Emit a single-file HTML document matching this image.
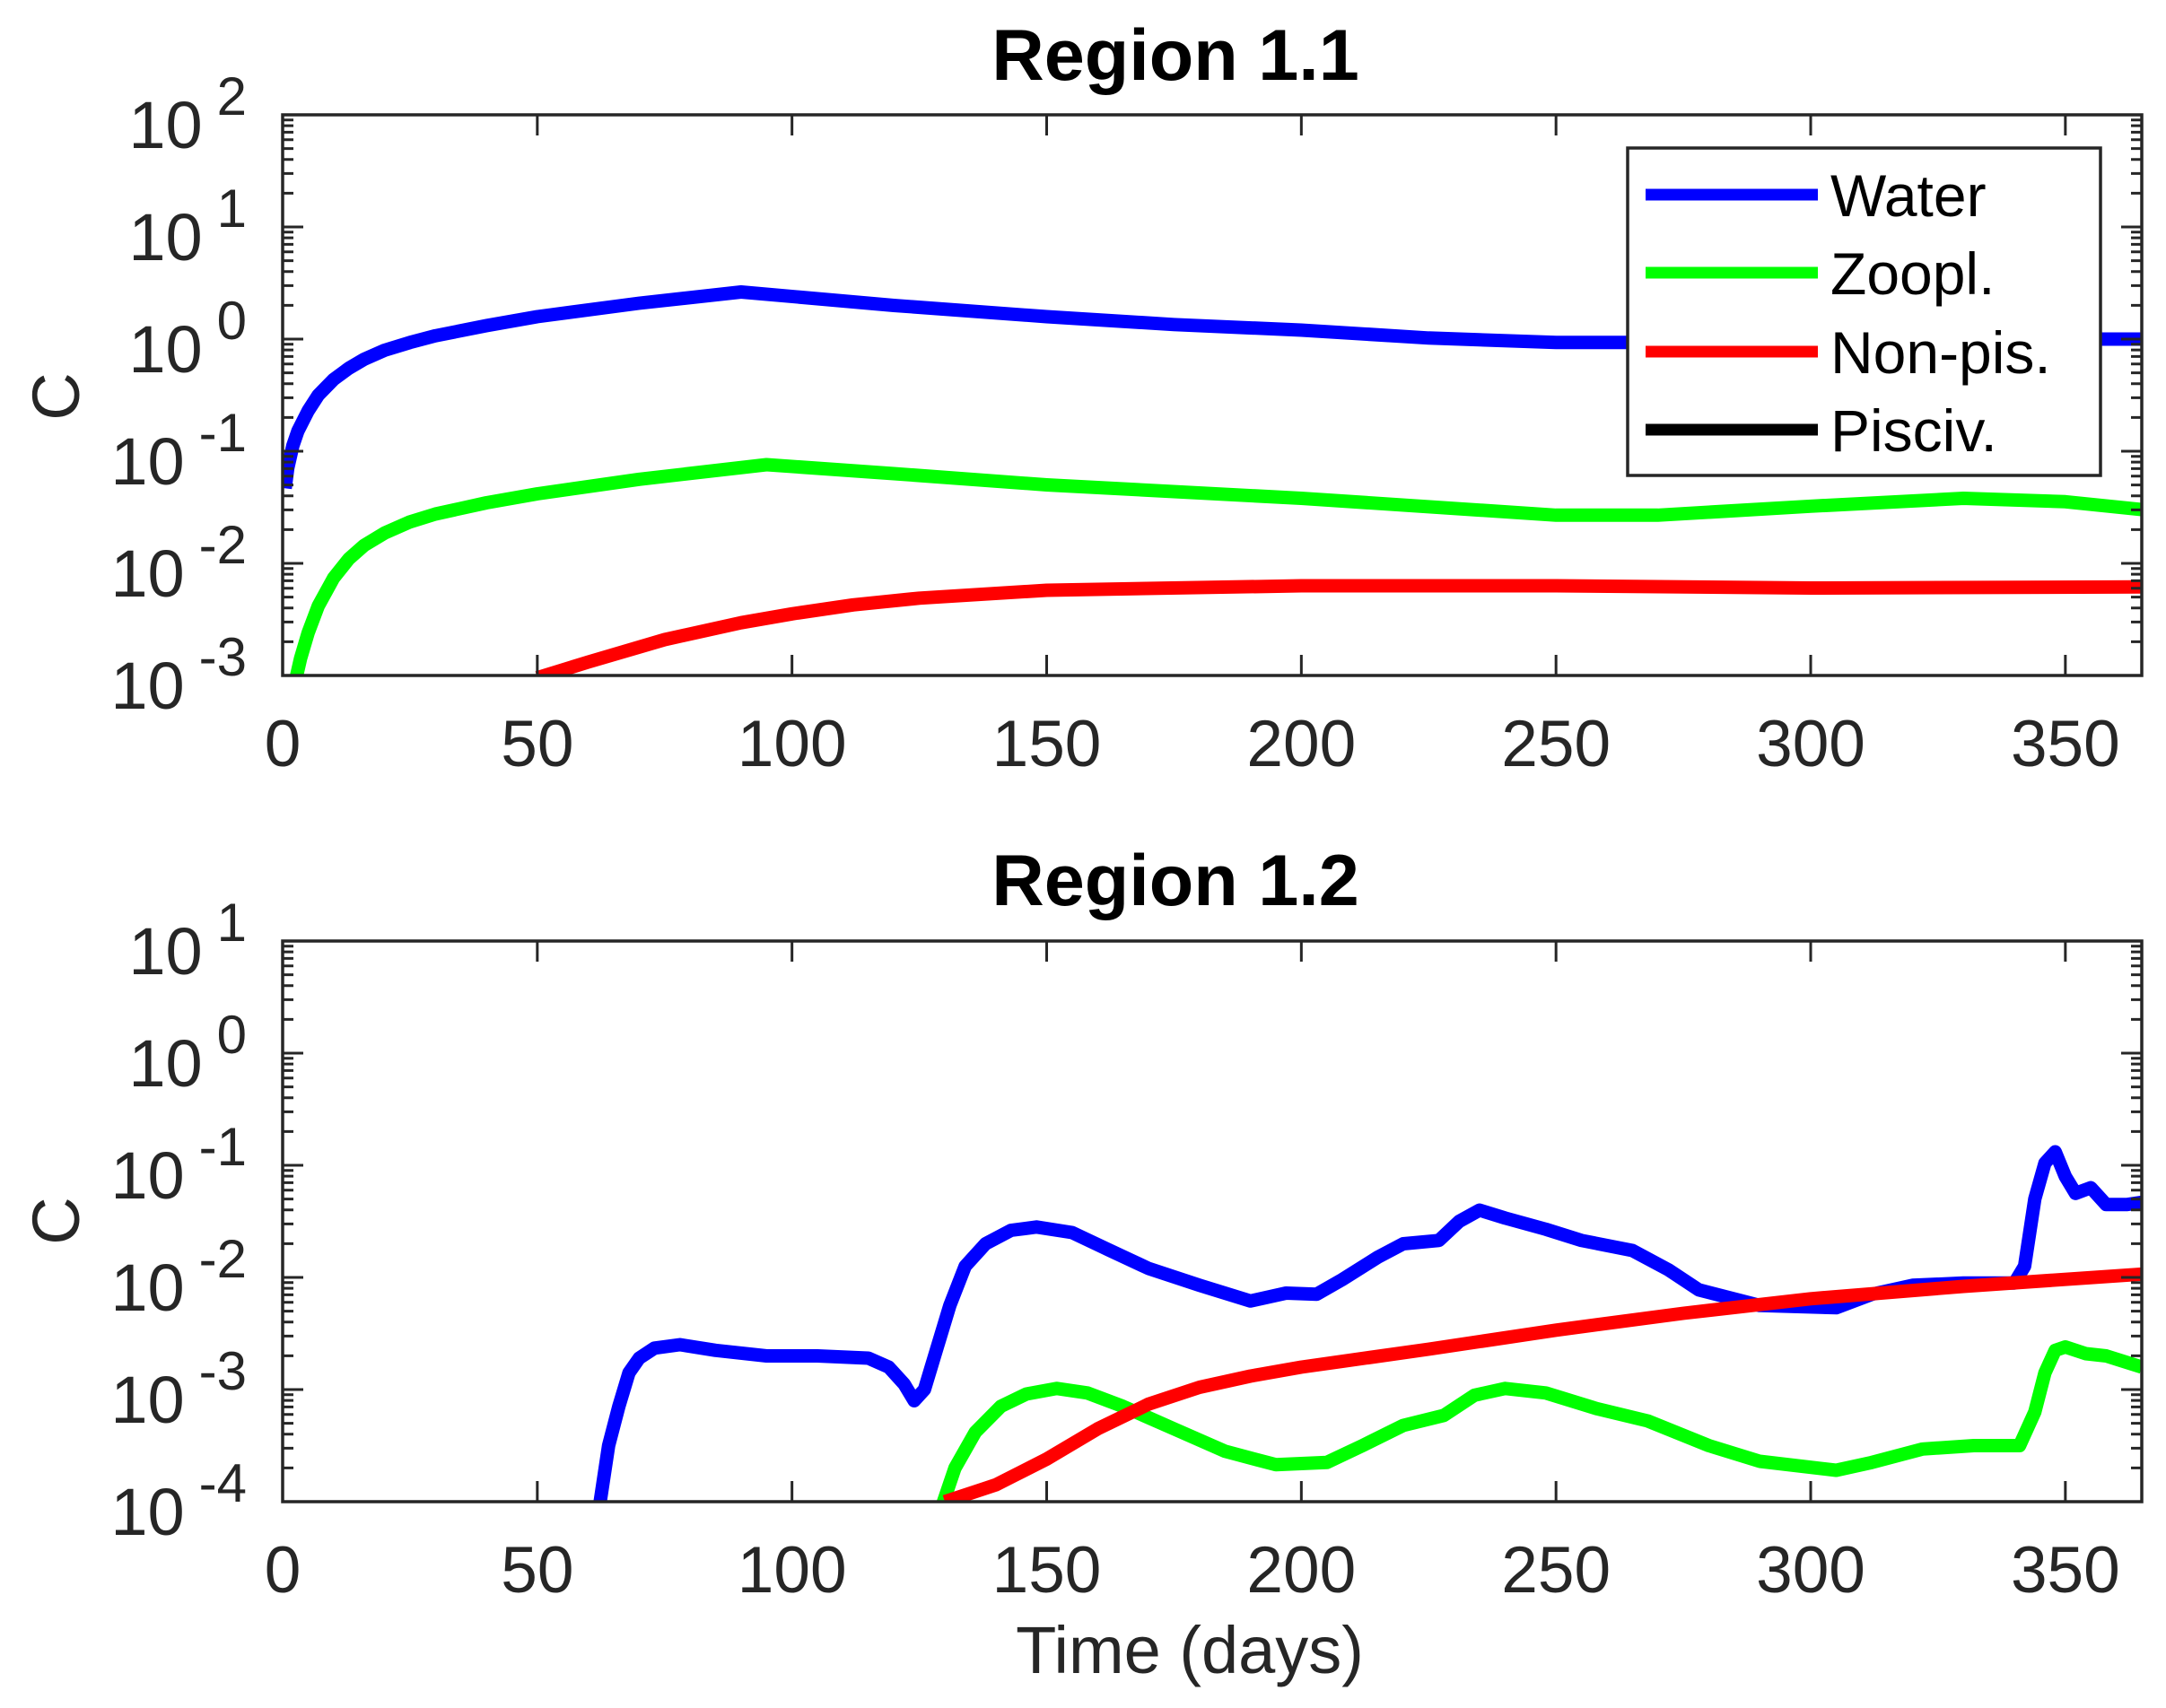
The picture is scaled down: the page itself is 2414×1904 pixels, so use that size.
<!DOCTYPE html>
<html><head><meta charset="utf-8"><style>
html,body{margin:0;padding:0;background:#fff;}
svg{display:block;}
text{font-family:"Liberation Sans",Arial,sans-serif;fill:#262626;}
</style></head><body>
<svg id="s" width="2414" height="1904" viewBox="0 0 2414 1904" xmlns="http://www.w3.org/2000/svg">
<defs>
<clipPath id="c1"><rect x="315" y="128" width="2072" height="625"/></clipPath>
<clipPath id="c2"><rect x="315" y="1049" width="2072" height="625"/></clipPath>
</defs>
<g id="g"></g>
<text x="1310" y="89" font-size="81" font-weight="bold" text-anchor="middle" style="fill:#000">Region 1.1</text>
<text x="1310" y="1009" font-size="81" font-weight="bold" text-anchor="middle" style="fill:#000">Region 1.2</text>
<text x="1326" y="1865" font-size="74" text-anchor="middle">Time (days)</text>
<text transform="translate(88,442) rotate(-90)" font-size="74" text-anchor="middle">C</text>
<text transform="translate(88,1361) rotate(-90)" font-size="74" text-anchor="middle">C</text>
</svg>
<script>
(function(){
var NS="http://www.w3.org/2000/svg",g=document.getElementById('g');
function el(n,a,t){var e=document.createElementNS(NS,n);for(var k in a)e.setAttribute(k,a[k]);if(t!=null)e.textContent=t;g.appendChild(e);return e;}
var L=315,R=2387,W=R-L;
function X(d){return L+d*W/365;}
function axes(top,dmax,dmin,clip,series){
  var bot=top+125*(dmax-dmin);
  function Y(l){return top+(dmax-l)*125;}
  series.forEach(function(s){
    var p=s.pts.map(function(q){return X(q[0]).toFixed(1)+','+Y(q[1]).toFixed(1);}).join(' ');
    el('polyline',{points:p,fill:'none',stroke:s.c,'stroke-width':15,'stroke-linejoin':'round','clip-path':'url(#'+clip+')'});
  });
  var d='';
  for(var t=0;t<=350;t+=50){var x=X(t);d+='M'+x+' '+bot+'V'+(bot-23)+'M'+x+' '+top+'V'+(top+23);
    el('text',{x:x,y:bot+101,'font-size':73,'text-anchor':'middle'},String(t));}
  for(var e=dmin;e<=dmax;e++){
    var y=Y(e);d+='M'+L+' '+y+'H'+(L+23)+'M'+R+' '+y+'H'+(R-23);
    var tx=el('text',{x:275,y:y+37,'text-anchor':'end','font-size':74});
    var a=document.createElementNS(NS,'tspan');a.textContent='10';tx.appendChild(a);
    var b=document.createElementNS(NS,'tspan');b.setAttribute('dx','16');b.setAttribute('dy','-37');b.setAttribute('font-size','60');b.textContent=String(e);tx.appendChild(b);
    if(e<dmax)for(var m=2;m<=9;m++){var ym=Y(e+Math.log10(m));d+='M'+L+' '+ym+'H'+(L+12)+'M'+R+' '+ym+'H'+(R-12);}
  }
  el('path',{d:d,stroke:'#262626','stroke-width':3,fill:'none'});
  el('rect',{x:L,y:top,width:W,height:bot-top,fill:'none',stroke:'#262626','stroke-width':3.5});
}
var b1=[[0.5,-1.33],[1,-1.15],[2,-0.95],[3,-0.82],[5,-0.64],[7,-0.5],[10,-0.36],[13,-0.26],[16,-0.18],[20,-0.1],[25,-0.03],[30,0.03],[40,0.12],[50,0.2],[70,0.32],[90,0.42],[120,0.30],[150,0.2],[175,0.13],[200,0.08],[225,0.01],[250,-0.03],[270,-0.03],[300,-0.02],[330,0.0],[365,0.0]];
var gr1=[[2.5,-3.05],[3.5,-2.85],[5,-2.62],[7,-2.38],[10,-2.13],[13,-1.96],[16,-1.84],[20,-1.73],[25,-1.63],[30,-1.56],[40,-1.46],[50,-1.38],[70,-1.25],[95,-1.12],[120,-1.2],[150,-1.3],[200,-1.42],[250,-1.57],[270,-1.57],[300,-1.49],[330,-1.42],[350,-1.45],[365,-1.52]];
var r1=[[50,-3.02],[60,-2.88],[75,-2.68],[90,-2.53],[100,-2.45],[112,-2.37],[125,-2.31],[150,-2.24],[200,-2.2],[250,-2.2],[300,-2.22],[365,-2.21]];
axes(128,2,-3,'c1',[{c:'#0000ff',pts:b1},{c:'#00ff00',pts:gr1},{c:'#ff0000',pts:r1}]);
var b2=[[62,-4.1],[64,-3.5],[66,-3.15],[68,-2.85],[70,-2.72],[73,-2.63],[78,-2.6],[85,-2.65],[95,-2.7],[105,-2.7],[115,-2.72],[119,-2.8],[122,-2.95],[124,-3.1],[126,-3.0],[128,-2.7],[131,-2.25],[134,-1.9],[138,-1.7],[143,-1.58],[148,-1.55],[155,-1.6],[162,-1.75],[170,-1.92],[180,-2.07],[190,-2.21],[197,-2.14],[203,-2.15],[208,-2.02],[215,-1.82],[220,-1.7],[227,-1.67],[231,-1.5],[235,-1.4],[240,-1.47],[248,-1.57],[255,-1.67],[265,-1.76],[272,-1.93],[278,-2.11],[290,-2.25],[305,-2.27],[312,-2.15],[320,-2.07],[330,-2.05],[340,-2.05],[342,-1.9],[344,-1.3],[346,-0.98],[348,-0.88],[350,-1.1],[352,-1.25],[355,-1.2],[358,-1.35],[362,-1.35],[365,-1.33]];
var g2=[[129,-4.1],[132,-3.7],[136,-3.38],[141,-3.15],[146,-3.04],[152,-2.99],[158,-3.03],[165,-3.15],[175,-3.35],[185,-3.55],[195,-3.67],[205,-3.65],[212,-3.5],[220,-3.32],[228,-3.23],[234,-3.05],[240,-2.99],[248,-3.03],[258,-3.17],[268,-3.28],[280,-3.5],[290,-3.64],[305,-3.72],[312,-3.65],[322,-3.53],[332,-3.5],[341,-3.5],[344,-3.2],[346,-2.85],[348,-2.65],[350,-2.62],[354,-2.68],[358,-2.7],[365,-2.8]];
var r2=[[130,-4.0],[140,-3.85],[150,-3.62],[160,-3.35],[170,-3.13],[180,-2.98],[190,-2.88],[200,-2.8],[225,-2.64],[250,-2.47],[275,-2.32],[300,-2.19],[330,-2.08],[365,-1.97]];
axes(1049,1,-4,'c2',[{c:'#0000ff',pts:b2},{c:'#00ff00',pts:g2},{c:'#ff0000',pts:r2}]);
el('rect',{x:1814,y:165,width:527,height:365,fill:'#fff',stroke:'#262626','stroke-width':3.5});
var items=[['Water','#0000ff',217],['Zoopl.','#00ff00',304],['Non-pis.','#ff0000',392],['Pisciv.','#000000',479]];
items.forEach(function(it){
  el('line',{x1:1834,x2:2026,y1:it[2],y2:it[2],stroke:it[1],'stroke-width':13});
  var t=el('text',{x:2040,y:it[2]+24,'font-size':66},it[0]);t.style.fill='#000';
});
})();
</script>
</body></html>
